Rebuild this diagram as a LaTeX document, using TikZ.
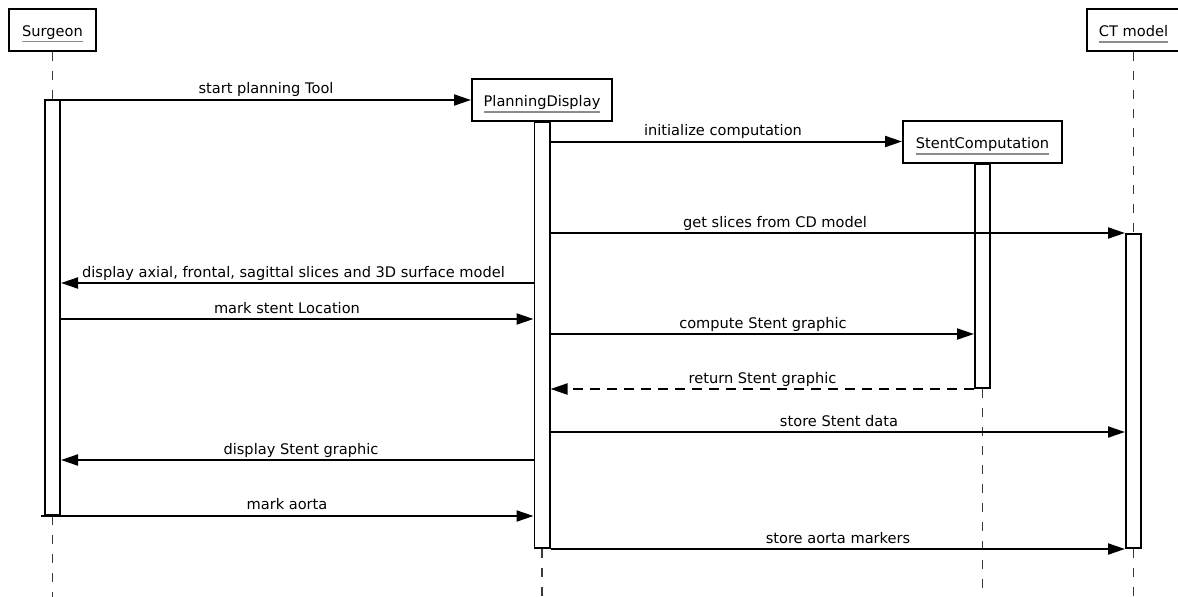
\documentclass[tikz,border=0pt]{standalone}
\usepackage{fontspec}
\setmainfont{DejaVu Sans}
\usetikzlibrary{arrows.meta}
\definecolor{ulgray}{HTML}{8C8C8C}
\definecolor{lifegray}{HTML}{3A3A3A}
\pgfdeclarelayer{background}
\pgfsetlayers{background,main}
% object name with a grey underline
\newcommand\objname[1]{\setbox0\hbox{#1}\rlap{\textcolor{ulgray}{\rule[-6.5pt]{\wd0}{2pt}}}\box0}

\begin{document}
\begin{tikzpicture}[x=1pt,y=-1pt,
  every node/.style={font=\fontsize{14.6pt}{17pt}\selectfont},
  head/.style={draw, line width=2pt, fill=white, minimum height=42pt,
    text height=13pt, text depth=0pt, inner sep=0pt},
  actbar/.style={draw, line width=1.7pt, fill=white, minimum width=15.3pt,
    inner sep=0pt, anchor=north},
  msg/.style={line width=2pt, -{Triangle[length=17pt,width=11pt]}},
  reply/.style={msg, dash pattern=on 10pt off 7pt},
  lifeline/.style={line width=1.5pt, draw=lifegray, dash pattern=on 9pt off 10pt},
  msglabel/.style={anchor=base, inner sep=0pt}]

\useasboundingbox (0,0) rectangle (1178,597);

% object heads
\node[head, minimum width=87pt]  (sur) at (52.5,29.5)  {\objname{Surgeon}};
\node[head, minimum width=140pt] (pd)  at (542,100)    {\objname{PlanningDisplay}};
\node[head, minimum width=159pt] (sc)  at (982.5,141.5){\objname{StentComputation}};
\node[head, minimum width=93pt]  (ct)  at (1133.5,30)  {\objname{CT model}};

% activation bars
\node[actbar, minimum height=415.3pt] (sbar) at (52.5,99)    {};
\node[actbar, minimum height=426.3pt] (pbar) at (542,121)    {};
\node[actbar, minimum height=224.3pt] (cbar) at (982.5,163)  {};
\node[actbar, minimum height=314.3pt] (tbar) at (1133.5,233) {};

% lower ends of the lifelines
\coordinate (surEnd) at (52.5,597);
\coordinate (pdEnd)  at (542,597);
\coordinate (scEnd)  at (982.5,597);
\coordinate (ctEnd)  at (1133.5,597);

% lifelines, behind the bars
\begin{pgfonlayer}{background}
\draw[lifeline] (sur.south) -- (sbar.north);
\draw[lifeline] (sbar.south) -- (surEnd);
\draw[lifeline] (pbar.south) -- (pdEnd);
\draw[lifeline] (cbar.south) -- (scEnd);
\draw[lifeline] (ct.south) -- (tbar.north);
\draw[lifeline] (tbar.south) -- (ctEnd);
\end{pgfonlayer}

% messages
\coordinate (aortaStart) at ([xshift=-3pt]sbar.south west);
\draw[msg] (sbar.east |- pd.west) -- (pd.west);
\draw[msg] (pbar.east |- sc.west) -- (sc.west);
\draw[msg] (pbar.east |- tbar.north) -- (tbar.north west);
\draw[msg] (pbar.west |- 0,283) -- (sbar.east |- 0,283);
\draw[msg] (sbar.east |- 0,319) -- (pbar.west |- 0,319);
\draw[msg] (pbar.east |- 0,334) -- (cbar.west |- 0,334);
\draw[reply] (cbar.south west) -- (pbar.east |- cbar.south);
\draw[msg] (pbar.east |- 0,432) -- (tbar.west |- 0,432);
\draw[msg] (pbar.west |- 0,460) -- (sbar.east |- 0,460);
\draw[msg] (aortaStart) -- (pbar.west |- aortaStart);
\draw[msg] (pbar.south east) -- (tbar.south west);

% message labels
\node[msglabel] (m1)  at (266,93)    {start planning Tool};
\node[msglabel] (m2)  at (723,135)   {initialize computation};
\node[msglabel] (m3)  at (775,227)   {get slices from CD model};
\node[msglabel] (m4)  at (293.5,277) {display axial, frontal, sagittal slices and 3D surface model};
\node[msglabel] (m5)  at (287,313)   {mark stent Location};
\node[msglabel] (m6)  at (763,328)   {compute Stent graphic};
\node[msglabel] (m7)  at (762.5,383) {return Stent graphic};
\node[msglabel] (m8)  at (839,426)   {store Stent data};
\node[msglabel] (m9)  at (301,454)   {display Stent graphic};
\node[msglabel] (m10) at (287,509)   {mark aorta};
\node[msglabel] (m11) at (838,543)   {store aorta markers};
\end{tikzpicture}
\end{document}
